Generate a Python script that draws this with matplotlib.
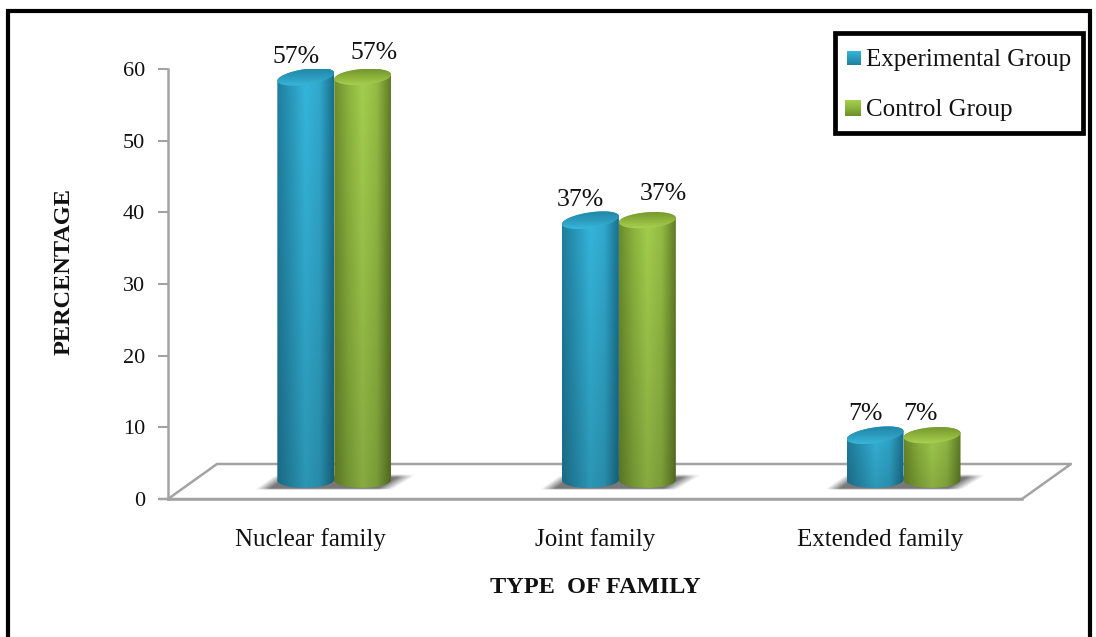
import numpy as np
import matplotlib
matplotlib.use("Agg")
import matplotlib.pyplot as plt
from matplotlib.colors import LinearSegmentedColormap
from matplotlib.patches import PathPatch, Rectangle
from matplotlib.path import Path

plt.rcParams['font.family'] = ['Liberation Serif', 'DejaVu Serif']

categories = ["Nuclear family", "Joint family", "Extended family"]
series_names = ["Experimental Group", "Control Group"]
experimental = [57, 37, 7]
control = [57, 37, 7]
y_ticks = [0, 10, 20, 30, 40, 50, 60]

# nudges for the value labels, (dx in bar units, dy in percent)
exp_label_nudge = [(-0.035, 4.7), (-0.035, 4.7), (-0.035, 4.9)]
ctl_label_nudge = [(0.04, 5.2), (0.055, 5.5), (-0.04, 4.9)]

W, H = 1096, 637
BLUE = ["#1f7f9f", "#2a9abd", "#35b6dc", "#31a9cd", "#1a718f"]
GREEN = ["#6c8d2c", "#8cb43e", "#a4cf4e", "#95bd44", "#5f7d26"]
BLUE_LID = ["#1e7f9f", "#2b9bbd", "#3cc0e4"]
GREEN_LID = ["#6d8e2b", "#8cb23a", "#aed655"]
GRAY = "#a3a3a3"

fig = plt.figure(figsize=(W / 100, H / 100), dpi=100, facecolor="white")
ax = fig.add_axes([168 / W, 1 - 499 / H, 854 / W, 430 / H])
ax.set_xlim(0, 3)
ax.set_ylim(0, 60)

# the bars stand half way into the floor, so they sit a bit right of and above the axis
depth_x = 0.084
lift = 1.9
base_y = 2.65
rx = 0.1
ry = 1.1


def ellipse_pts(cx, cy, tilt):
    t = np.linspace(0, 2 * np.pi, 80)
    return np.column_stack([cx + rx * np.cos(t), cy + ry * np.sin(t) + tilt * np.cos(t)])


def ramp(colors):
    cmap = LinearSegmentedColormap.from_list("c", colors)
    return cmap(np.linspace(0, 1, 200))[:, :3]


def body_image(colors):
    rgb = ramp(colors)
    rows = np.linspace(1.0, 0.82, 100)[:, None, None]
    return np.clip(rgb[None, :, :] * rows, 0, 1)


def clipped_image(arr, extent, pts, z):
    clip = PathPatch(Path(pts), fc="none", ec="none", transform=ax.transData)
    ax.add_patch(clip)
    img = ax.imshow(arr, extent=extent, aspect="auto", origin="upper", zorder=z, interpolation="bilinear")
    img.set_clip_path(clip)


def cylinder(cx, value, colors, lid_colors, tilt):
    top = value + lift
    t = np.linspace(0, np.pi, 40)
    # outline: front of the bottom ellipse plus the back of the top one
    lower = np.column_stack([cx - rx * np.cos(t), base_y - ry * np.sin(t) - 0.1 * tilt * np.cos(t)])
    upper = np.column_stack([cx + rx * np.cos(t), top + ry * np.sin(t) + tilt * np.cos(t)])
    clipped_image(body_image(colors), [cx - rx, cx + rx, base_y - ry - 1, top + ry + 1],
                  np.vstack([lower, upper]), 3)

    # lid of the cylinder, dark at the back and going light towards the front rim
    lid = ramp(lid_colors)[:, None, :]
    clipped_image(lid, [cx - rx, cx + rx, top - ry - abs(tilt), top + ry + abs(tilt)],
                  ellipse_pts(cx, top, tilt), 4)


def floor_shadow(cx):
    # soft grey patch on the floor around a pair of bars, widths in pixels from cx
    xs = np.linspace(-85, 90, 175)
    vs = np.linspace(1, 0, 32)
    xx, vv = np.meshgrid(xs, vs)
    left = -80 + 22 * vv
    right = 58 + 26 * vv
    a = np.clip((xx - left) / 14, 0, 1) * np.clip((right - xx) / 16, 0, 1)
    a = a * np.clip(vv / 0.08, 0, 1) * np.clip((1 - vv) / 0.2, 0, 1) * 0.85
    rgba = np.zeros((32, 175, 4))
    rgba[..., :3] = 0.38
    rgba[..., 3] = a
    ax.imshow(rgba, extent=[cx - 85 / 285, cx + 90 / 285, 1.26, 3.49], aspect="auto", origin="upper",
              zorder=2, interpolation="bilinear")


for i in range(len(categories)):
    center = i + 0.5 + depth_x
    c1 = center - rx
    c2 = center + rx
    floor_shadow(center)
    cylinder(c2, control[i], GREEN, GREEN_LID, 0.3)
    cylinder(c1, experimental[i], BLUE, BLUE_LID, 0.55)
    ax.text(c1 + exp_label_nudge[i][0], experimental[i] + exp_label_nudge[i][1], f"{experimental[i]}%",
            ha="center", va="center", fontsize=18.5, color="#111111", zorder=6)
    ax.text(c2 + ctl_label_nudge[i][0], control[i] + ctl_label_nudge[i][1], f"{control[i]}%",
            ha="center", va="center", fontsize=18.5, color="#111111", zorder=6)

ax.set_xlim(0, 3)
ax.set_ylim(0, 60)

ax.set_xticks([i + 0.5 for i in range(len(categories))])
ax.set_xticklabels(categories, fontsize=18, color="#111111")
ax.set_yticks(y_ticks)
ax.tick_params(axis="x", length=0, pad=21)
ax.tick_params(axis="y", length=7.5, width=1.5, color=GRAY, labelsize=16, pad=9, labelcolor="#111111")
for s in ["top", "right"]:
    ax.spines[s].set_visible(False)
for s in ["left", "bottom"]:
    ax.spines[s].set_color(GRAY)
    ax.spines[s].set_linewidth(1.8)
ax.patch.set_alpha(0)
ax.set_ylabel("PERCENTAGE", fontsize=17.5, fontweight="bold", color="#111111", labelpad=0)
ax.yaxis.set_label_coords(-93 / 854, 0.53)
ax.set_xlabel("TYPE  OF FAMILY", fontsize=17.5, fontweight="bold", color="#111111")
ax.xaxis.set_label_coords(427 / 854, -78 / 430)

# overlay in pixel units for the floor outline, page frame and legend
ov = fig.add_axes([0, 0, 1, 1], zorder=-1)
ov.set_xlim(0, W)
ov.set_ylim(H, 0)
ov.axis("off")
ov.plot([160, 168, 217, 1071, 1022, 168], [499, 499, 464, 464, 499, 499], color=GRAY, lw=1.8)

top = fig.add_axes([0, 0, 1, 1], zorder=5)
top.set_xlim(0, W)
top.set_ylim(H, 0)
top.axis("off")
top.plot([8, 8, 1090, 1090], [H + 5, 11, 11, H + 5], color="black", lw=3, solid_joinstyle="miter")
top.add_patch(Rectangle((835, 33), 248, 100, fc="white", ec="black", lw=3.4))


def legend_swatch(x, y, s, colors):
    arr = ramp([colors[2], colors[1], colors[0]])[:, None, :]
    top.imshow(arr, extent=[x, x + s, y + s, y], aspect="auto", zorder=6)


legend_swatch(847, 51, 14, BLUE)
legend_swatch(845, 100, 16, GREEN)
top.set_xlim(0, W)
top.set_ylim(H, 0)
top.text(866, 60, series_names[0], fontsize=18, va="center", ha="left", color="#111111")
top.text(866, 110, series_names[1], fontsize=18, va="center", ha="left", color="#111111")

fig.savefig("out.png", dpi=100)
